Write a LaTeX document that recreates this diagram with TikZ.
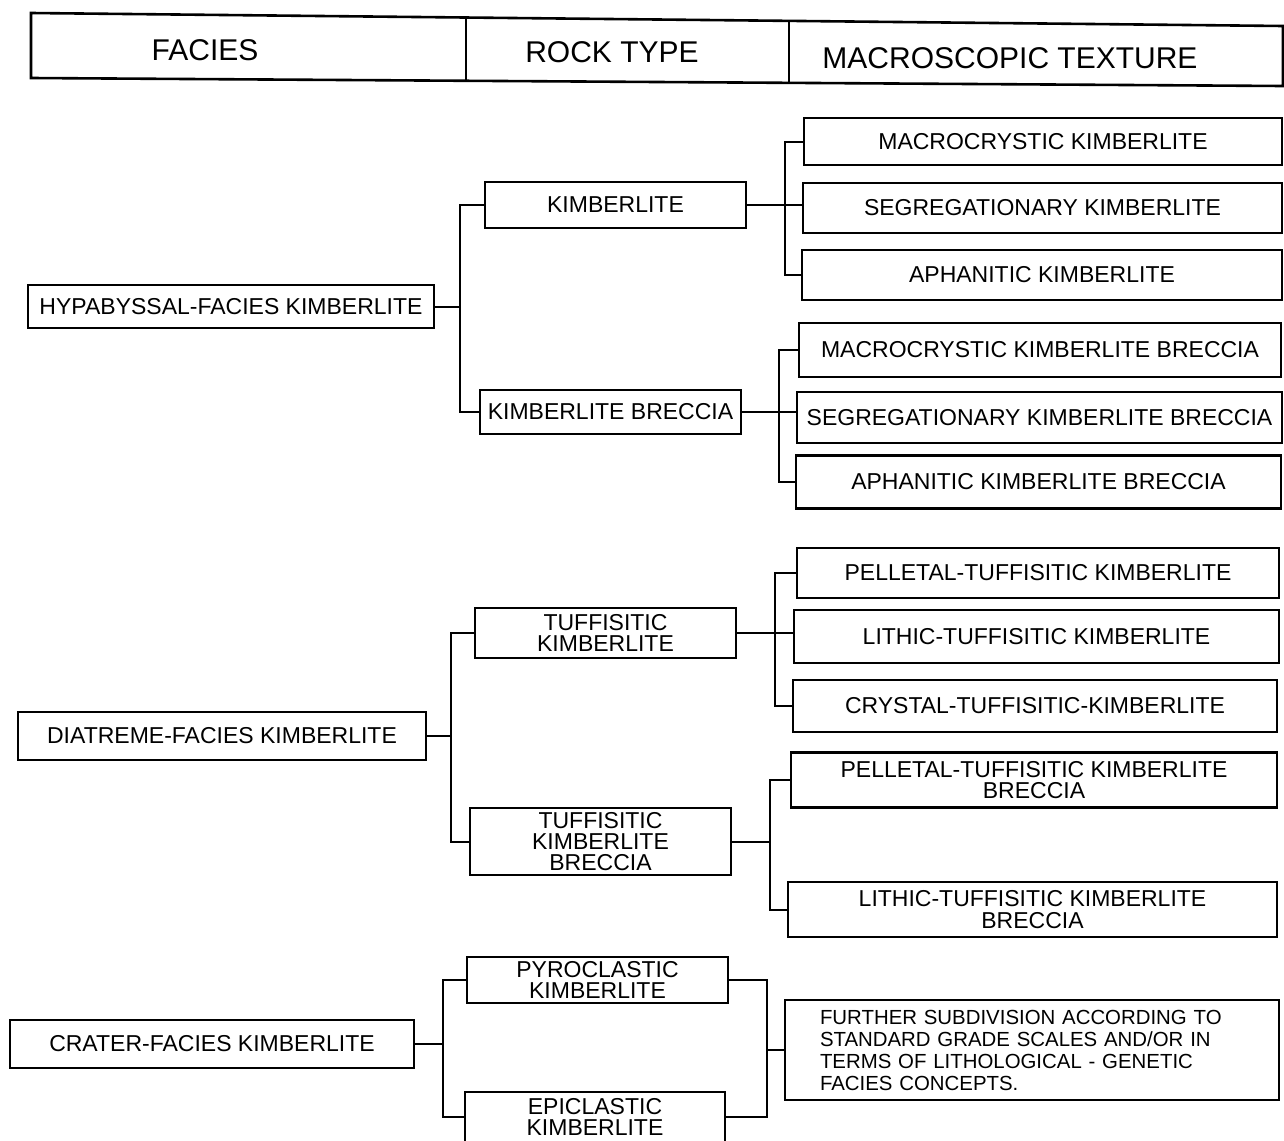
\documentclass[tikz,border=0pt]{standalone}
\usepackage{fontspec}
\newfontfamily\lettering{Liberation Sans}
\begin{document}
\begin{tikzpicture}[x=0.5pt,y=-0.5pt,
  box/.style={draw, line width=1.2pt, inner sep=0pt, align=center,
    font=\lettering\fontsize{11.5}{10.5}\selectfont},
  link/.style={line width=1pt},
  hdr/.style={font=\lettering\fontsize{15}{18}\selectfont}]
\clip (0,0) rectangle (1284,1140);
\fill[white] (0,0) rectangle (1284,1140);
% header table
\coordinate (htl) at (31,13);
\coordinate (htr) at (1283,26);
\coordinate (hbr) at (1283,86);
\coordinate (hbl) at (31,78);
\draw[line width=1.3pt] (htl) -- (htr) -- (hbr) -- (hbl) -- cycle;
\draw[line width=1.1pt] (466,17) -- (466,80);
\draw[line width=1.1pt] (789,21) -- (789,82);
\node[hdr] (hA) at (205,50) {FACIES};
\node[hdr] (hB) at (612,52) {ROCK TYPE};
\node[hdr] (hC) at (1010,58) {MACROSCOPIC TEXTURE};
% hypabyssal
\node[box, minimum width=203pt, minimum height=21.5pt] (hyp) at (231,306.5) {HYPABYSSAL-FACIES KIMBERLITE};
\node[box, minimum width=130.5pt, minimum height=23pt] (kim) at (615.5,205) {KIMBERLITE};
\node[box, minimum width=130.5pt, minimum height=22pt] (kbr) at (610.5,412) {KIMBERLITE BRECCIA};
\node[box, minimum width=239pt, minimum height=23.5pt] (m1) at (1043,141.5) {MACROCRYSTIC KIMBERLITE};
\node[box, minimum width=239.5pt, minimum height=25pt] (m2) at (1042.5,208) {SEGREGATIONARY KIMBERLITE};
\node[box, minimum width=240pt, minimum height=25pt] (m3) at (1042,275) {APHANITIC KIMBERLITE};
\node[box, minimum width=241pt, minimum height=27pt] (b1) at (1040,350) {MACROCRYSTIC KIMBERLITE BRECCIA};
\node[box, minimum width=242.5pt, minimum height=25.5pt] (b2) at (1039.5,417.5) {SEGREGATIONARY KIMBERLITE BRECCIA};
\node[box, minimum width=242.5pt, minimum height=26.5pt] (b3) at (1038.5,482) {APHANITIC KIMBERLITE BRECCIA};
% diatreme
\node[box, minimum width=204pt, minimum height=24pt] (diat) at (222,736) {DIATREME-FACIES KIMBERLITE};
\node[box, minimum width=130.5pt, minimum height=25pt] (tk) at (605.5,633) {TUFFISITIC\\KIMBERLITE};
\node[box, minimum width=130.5pt, minimum height=33.5pt] (tkb) at (600.5,841.5) {TUFFISITIC\\KIMBERLITE\\BRECCIA};
\node[box, minimum width=241pt, minimum height=25pt] (p1) at (1038,573) {PELLETAL-TUFFISITIC KIMBERLITE};
\node[box, minimum width=242.5pt, minimum height=26.5pt] (p2) at (1036.5,636.5) {LITHIC-TUFFISITIC KIMBERLITE};
\node[box, minimum width=242pt, minimum height=26pt] (p3) at (1035,706) {CRYSTAL-TUFFISITIC-KIMBERLITE};
\node[box, minimum width=243pt, minimum height=27.5pt] (p4) at (1034,780) {PELLETAL-TUFFISITIC KIMBERLITE\\BRECCIA};
\node[box, minimum width=244.5pt, minimum height=27.5pt, font=\lettering\fontsize{11.5}{11}\selectfont] (p5) at (1032.5,909.5) {LITHIC-TUFFISITIC KIMBERLITE\\BRECCIA};
% crater
\node[box, minimum width=202pt, minimum height=24pt] (crat) at (212,1044) {CRATER-FACIES KIMBERLITE};
\node[box, minimum width=130.5pt, minimum height=23pt] (pyro) at (597.5,980) {PYROCLASTIC\\KIMBERLITE};
\node[box, minimum width=130pt, minimum height=25pt] (epi) at (595,1117) {EPICLASTIC\\KIMBERLITE};
\node[box, minimum width=247pt, minimum height=50pt, text width=212pt, inner xsep=17.5pt, align=left,
  font=\lettering\fontsize{10.2}{11}\selectfont] (fur) at (1032,1050)
  {FURTHER SUBDIVISION ACCORDING TO\\STANDARD GRADE SCALES AND/OR IN\\TERMS OF LITHOLOGICAL - GENETIC\\FACIES CONCEPTS.};
% junction columns
\coordinate (j1) at (460,0);
\coordinate (j2) at (785,0);
\coordinate (j3) at (779,0);
\coordinate (j4) at (451,0);
\coordinate (j5) at (775,0);
\coordinate (j6) at (770,0);
\coordinate (j7) at (443,0);
\coordinate (j8) at (767,0);
% connectors
\draw[link] (hyp.east) -- (hyp.east -| j1);
\draw[link] (kim.west) -- (kim.west -| j1) -- (kbr.west -| j1) -- (kbr.west);
\draw[link] (kim.east) -- (kim.east -| m2.west);
\draw[link] (m1.west) -- (m1.west -| j2) -- (m3.west -| j2) -- (m3.west);
\draw[link] (kbr.east) -- (kbr.east -| b2.west);
\draw[link] (b1.west) -- (b1.west -| j3) -- (b3.west -| j3) -- (b3.west);
\draw[link] (diat.east) -- (diat.east -| j4);
\draw[link] (tk.west) -- (tk.west -| j4) -- (tkb.west -| j4) -- (tkb.west);
\draw[link] (tk.east) -- (tk.east -| p2.west);
\draw[link] (p1.west) -- (p1.west -| j5) -- (p3.west -| j5) -- (p3.west);
\draw[link] (tkb.east) -- (tkb.east -| j6);
\draw[link] (p4.west) -- (p4.west -| j6) -- (p5.west -| j6) -- (p5.west);
\draw[link] (crat.east) -- (crat.east -| j7);
\draw[link] (pyro.west) -- (pyro.west -| j7) -- (epi.west -| j7) -- (epi.west);
\draw[link] (pyro.east) -- (pyro.east -| j8) -- (epi.east -| j8) -- (epi.east);
\draw[link] (fur.west -| j8) -- (fur.west);
\end{tikzpicture}
\end{document}
